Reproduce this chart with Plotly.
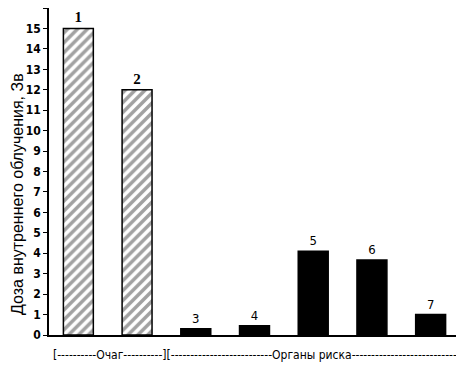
import plotly.graph_objects as go

categories = ["1", "2", "3", "4", "5", "6", "7"]
values = [15.0, 12.0, 0.31, 0.45, 4.1, 3.67, 1.0]
hatched = [True, True, False, False, False, False, False]
y_ticks = list(range(0, 17))
y_title = "Доза внутреннего облучения, Зв"
group_label = ("[" + "-" * 10 + "Очаг" + "-" * 10 + "][" + "-" * 26
               + "Органы риска" + "-" * 27 + "]")

narrow = "DejaVu Sans Condensed, Liberation Sans Narrow, Arial Narrow, sans-serif"

fig = go.Figure()
fig.add_trace(go.Bar(
    x=categories,
    y=values,
    width=0.51,
    text=categories,
    textposition="outside",
    cliponaxis=False,
    textfont=dict(
        family=["Liberation Serif" if h else narrow for h in hatched],
        size=[15 if h else 13 for h in hatched],
        color="black",
        weight=["bold" if h else "normal" for h in hatched],
    ),
    marker=dict(
        color=["white" if h else "black" for h in hatched],
        line=dict(color="black", width=1.5),
        pattern=dict(
            shape=["/" if h else "" for h in hatched],
            fgcolor="black",
            bgcolor="white",
            size=7,
            solidity=0.5,
        ),
    ),
    showlegend=False,
))

fig.update_layout(
    width=456,
    height=368,
    margin=dict(l=41, r=4, t=0, b=41),
    paper_bgcolor="white",
    plot_bgcolor="white",
    bargap=0.49,
    xaxis=dict(
        showticklabels=False,
        ticks="",
        showline=True,
        linecolor="black",
        linewidth=1.5,
        showgrid=False,
        zeroline=False,
        automargin=False,
    ),
    yaxis=dict(
        range=[0, 16],
        tickvals=y_ticks,
        ticks="outside",
        ticklen=4,
        tickcolor="black",
        showline=True,
        linecolor="black",
        linewidth=1.5,
        showgrid=False,
        zeroline=False,
        automargin=False,
        tickfont=dict(family=narrow, size=12, color="black", weight="bold"),
    ),
    annotations=[
        dict(
            text=group_label,
            xref="paper", yref="paper",
            x=0.505, y=-0.061,
            xanchor="center", yanchor="middle",
            showarrow=False,
            font=dict(family=narrow, size=12, color="black"),
        ),
        dict(
            text=y_title,
            xref="paper", yref="paper",
            x=-0.078, y=0.431,
            xanchor="center", yanchor="middle",
            textangle=-90,
            showarrow=False,
            font=dict(family="Liberation Sans, Arial, sans-serif", size=16, color="black"),
        ),
    ],
)

fig.write_html("out.html")
